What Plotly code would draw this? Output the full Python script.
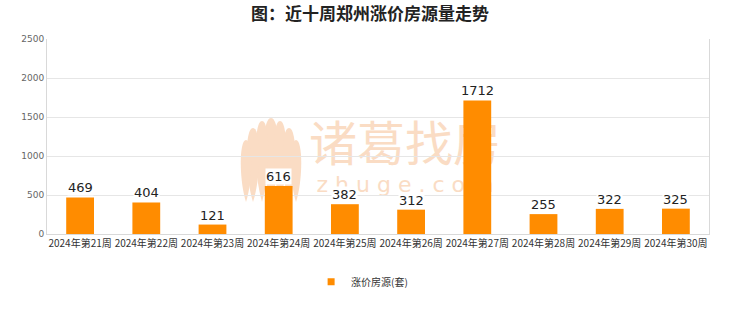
import plotly.graph_objects as go

categories = ["2024年第21周", "2024年第22周", "2024年第23周", "2024年第24周", "2024年第25周",
              "2024年第26周", "2024年第27周", "2024年第28周", "2024年第29周", "2024年第30周"]
values = [469, 404, 121, 616, 382, 312, 1712, 255, 322, 325]
series_name = "涨价房源(套)"
title_text = "图：近十周郑州涨价房源量走势"
y_ticks = [0, 500, 1000, 1500, 2000, 2500]

W, H = 740, 312
L, R, T, B = 47, 31, 39, 78
PW, PH = W - L - R, H - T - B
BAR = "#ff8c00"
WM = "#fadcc4"
FONT = "Noto Sans CJK SC, sans-serif"


def px(x):
    return (x - L) / PW


def py(y):
    return (H - B - y) / PH


fig = go.Figure()
fig.add_trace(go.Bar(
    x=categories, y=values, name=series_name,
    marker=dict(color=BAR, line=dict(width=0)),
    width=0.42, showlegend=False,
))
# legend entry with small square marker
fig.add_trace(go.Scatter(x=[None], y=[None], mode="markers", name=series_name,
                         marker=dict(symbol="square", size=7, color=BAR), showlegend=True))

# data labels with white background
for c, v in zip(categories, values):
    fig.add_annotation(x=c, y=v, text=str(v), showarrow=False, yanchor="bottom",
                       yshift=1, bgcolor="white", borderpad=0,
                       font=dict(family="DejaVu Sans, sans-serif", size=13, color="#222"))

shapes = []
# watermark lotus petals (below traces)
cx, bottom = 271, 202
petals = [(0, 118, 7), (-9, 121, 6), (9, 121, 6), (-18, 128, 6), (18, 128, 6),
          (-25, 140, 5), (25, 140, 5)]
for dx, top, w in petals:
    x0 = cx + dx
    k = 1.4 * w
    yb = bottom - 0.35 * (bottom - top)
    path = (f"M {px(x0)},{py(bottom)} "
            f"C {px(x0 - k)},{py(yb)} {px(x0 - k)},{py(top)} {px(x0)},{py(top)} "
            f"C {px(x0 + k)},{py(top)} {px(x0 + k)},{py(yb)} {px(x0)},{py(bottom)} Z")
    shapes.append(dict(type="path", xref="paper", yref="paper", path=path,
                       fillcolor=WM, line=dict(width=0), layer="below"))
# watermark text via shape labels (below traces)
shapes.append(dict(type="rect", xref="paper", yref="paper",
                   x0=px(305), x1=px(505), y0=py(175), y1=py(121),
                   line=dict(width=0), fillcolor="rgba(0,0,0,0)", layer="below",
                   label=dict(text="诸葛找房", font=dict(family=FONT, size=48, color=WM),
                              textposition="middle center")))
shapes.append(dict(type="rect", xref="paper", yref="paper",
                   x0=px(305), x1=px(505), y0=py(193), y1=py(171),
                   line=dict(width=0), fillcolor="rgba(0,0,0,0)", layer="below",
                   label=dict(text="z h u g e . c o m", font=dict(family="DejaVu Sans, sans-serif", size=22, color=WM),
                              textposition="middle center")))

fig.update_layout(
    width=W, height=H,
    margin=dict(l=L, r=R, t=T, b=B),
    paper_bgcolor="white", plot_bgcolor="white",
    title=dict(text=f"<b>{title_text}</b>", x=0.5, xanchor="center", y=0.955, yanchor="middle",
               font=dict(family=FONT, size=17, color="#222")),
    shapes=shapes,
    showlegend=True,
    legend=dict(orientation="h", x=0.476, xanchor="center", y=-0.17, yanchor="top",
                font=dict(family=FONT, size=10, color="#333"), itemwidth=30),
    bargap=0.58,
)
fig.update_xaxes(type="category", showline=True, linecolor="#d9d9d9", linewidth=1,
                 showgrid=False, ticks="", tickfont=dict(family=FONT, size=10, color="#333"),
                 range=[-0.5, 9.5], tickangle=0)
fig.update_yaxes(range=[0, 2500], tickvals=y_ticks, showgrid=True, gridcolor="#e6e6e6",
                 showline=True, mirror=True, linecolor="#d9d9d9", linewidth=1, zeroline=False,
                 tickfont=dict(family="DejaVu Sans, sans-serif", size=9, color="#666"), ticks="")

fig.write_html("out.html")
